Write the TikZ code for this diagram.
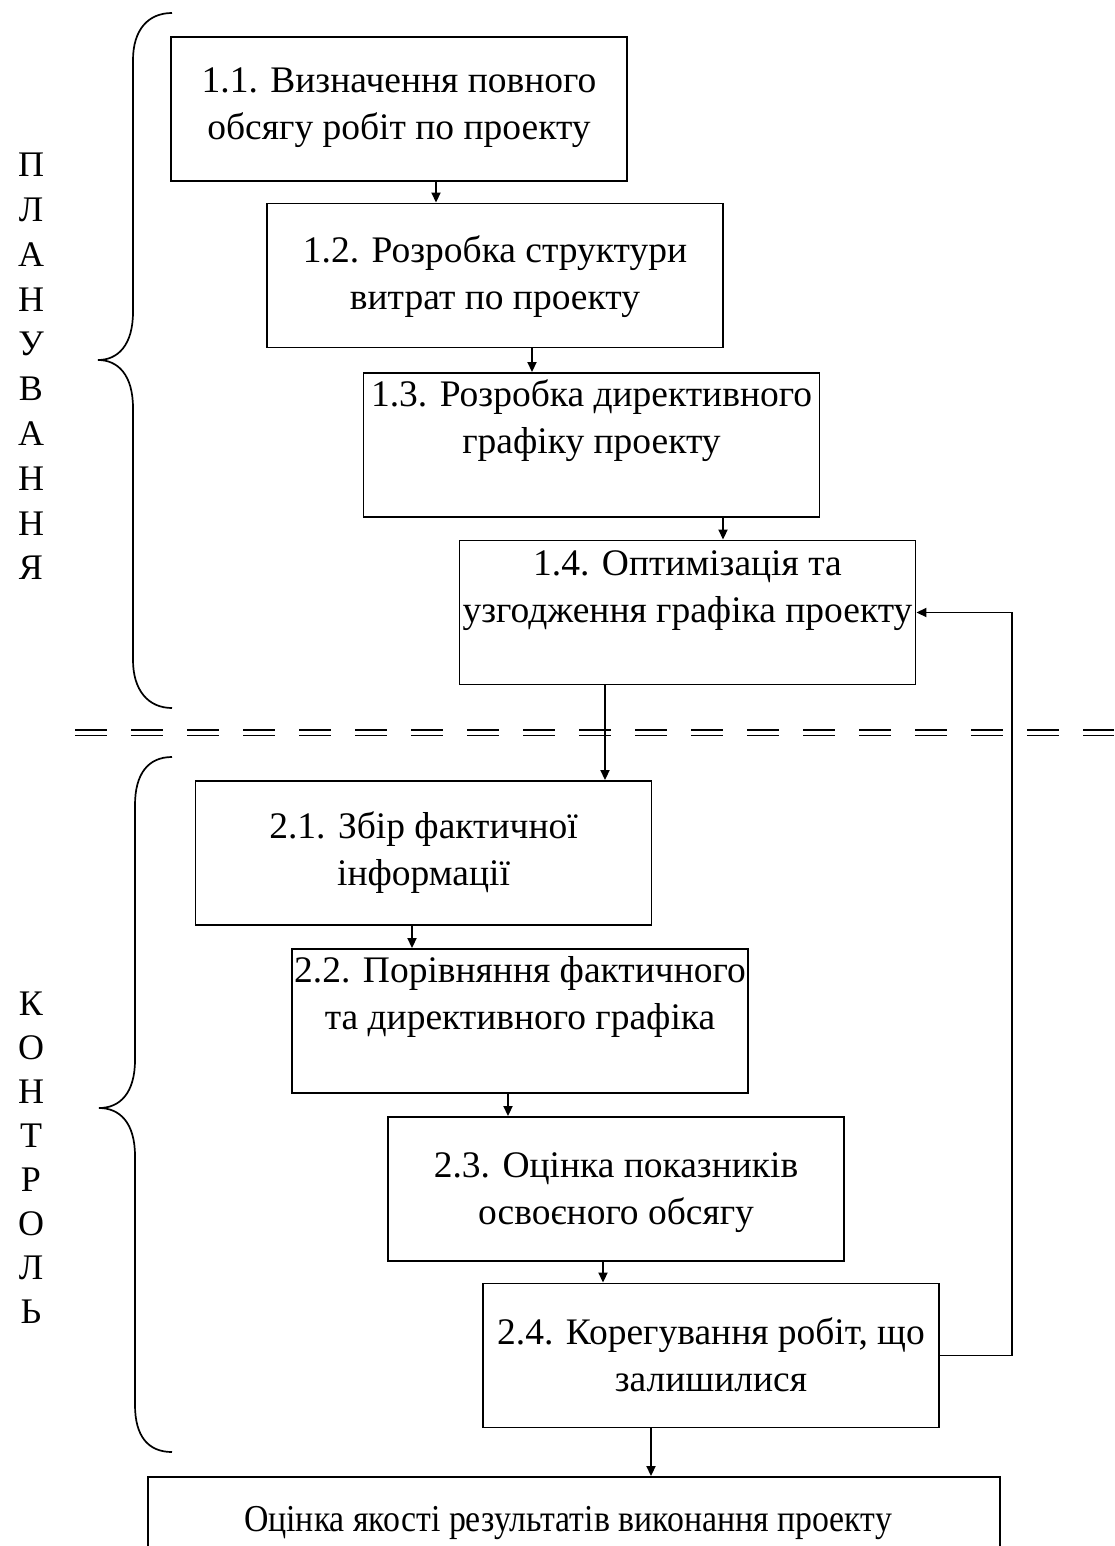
\documentclass[tikz,border=0pt]{standalone}
\usepackage{fontspec}
\setmainfont{Liberation Serif}
\newfontfamily\condserif[FakeStretch=0.89]{Liberation Serif}
\usetikzlibrary{arrows.meta}
\begin{document}
\begin{tikzpicture}[x=1pt,y=-1pt,
  box/.style={draw,line width=1.9pt,minimum width=456pt,minimum height=144pt,inner sep=0pt},
  lbl/.style={align=center,font=\fontsize{37.5}{47}\selectfont,inner sep=0pt},
  arr/.style={line width=1.8pt,-{Triangle[length=10pt,width=9pt]}},
  bracestyle/.style={line width=1.7pt},
  vlet/.style={font=\fontsize{36}{40}\selectfont,inner sep=0pt},
  seprule/.style={line width=1.9pt,dash pattern=on 32pt off 24pt}]
\clip (0,0) rectangle (1114,1546);
\fill[white] (0,0) rectangle (1114,1546);
% boxes
\node[box] (b11) at (399,109) {};
\node[box] (b12) at (495,275.5) {};
\node[box] (b13) at (591.5,445) {};
\node[box] (b14) at (687.5,612.5) {};
\node[box] (b21) at (423.5,853) {};
\node[box] (b22) at (520,1021) {};
\node[box] (b23) at (616,1189) {};
\node[box] (b24) at (711,1355.5) {};
\node[draw,line width=1.9pt,minimum width=852pt,minimum height=160pt,inner sep=0pt] (b3) at (574,1557) {};
% texts
\node[lbl] (t11) at (399,108) {1.1. Визначення повного\\обсягу робіт по проекту};
\node[lbl] (t12) at (495,277) {1.2. Розробка структури\\витрат по проекту};
\node[lbl] (t13) at (591.5,421) {1.3. Розробка директивного\\графіку проекту};
\node[lbl] (t14) at (687.5,591) {1.4. Оптимізація та\\узгодження графіка проекту};
\node[lbl] (t21) at (423.5,853) {2.1. Збір фактичної\\інформації};
\node[lbl] (t22) at (520,997) {2.2. Порівняння фактичного\\та директивного графіка};
\node[lbl] (t23) at (616,1193) {2.3. Оцінка показників\\освоєного обсягу};
\node[lbl] (t24) at (711,1355) {2.4. Корегування робіт, що\\залишилися};
\node[lbl,font=\condserif\fontsize{38}{47}\selectfont,anchor=base] (t3) at (568,1531) {Оцінка якості результатів виконання проекту};
% arrows
\draw[arr] (b11.south -| 436,0) -- (b12.north -| 436,0);
\draw[arr] (b12.south -| 532,0) -- (b13.north -| 532,0);
\draw[arr] (b13.south -| 723,0) -- (b14.north -| 723,0);
\draw[arr] (b14.south -| 605,0) -- (b21.north -| 605,0);
\draw[arr] (b21.south -| 412,0) -- (b22.north -| 412,0);
\draw[arr] (b22.south -| 508,0) -- (b23.north -| 508,0);
\draw[arr] (b23.south -| 603,0) -- (b24.north -| 603,0);
\draw[arr] (b24.south -| 651,0) -- (b3.north -| 651,0);
\draw[arr] (b24.east) -| (b14.east -| 1012,0) -- (b14.east);
% separator
\draw[seprule] (75,730) -- (1114,730);
\draw[seprule] (75,735.5) -- (1114,735.5);
% braces
\draw[bracestyle] (172,13) .. controls (148,13) and (133,30) .. (133,60) -- (133,312)
  .. controls (133,345) and (118,360) .. (98,360)
  .. controls (118,360) and (133,375) .. (133,408) -- (133,660)
  .. controls (133,690) and (148,708) .. (172,708);
\draw[bracestyle] (172,757) .. controls (148,757) and (135,774) .. (135,805) -- (135,1060)
  .. controls (135,1093) and (120,1108) .. (99,1108)
  .. controls (120,1108) and (135,1123) .. (135,1156) -- (135,1405)
  .. controls (135,1436) and (148,1452) .. (172,1452);
% vertical words
\foreach \ch [count=\i from 0] in {П,Л,А,Н,У,В,А,Н,Н,Я}
  \node[vlet] (p\i) at (31,165+44.8*\i) {\ch};
\foreach \ch [count=\i from 0] in {К,О,Н,Т,Р,О,Л,Ь}
  \node[vlet] (k\i) at (31,1004+44*\i) {\ch};
\end{tikzpicture}
\end{document}
